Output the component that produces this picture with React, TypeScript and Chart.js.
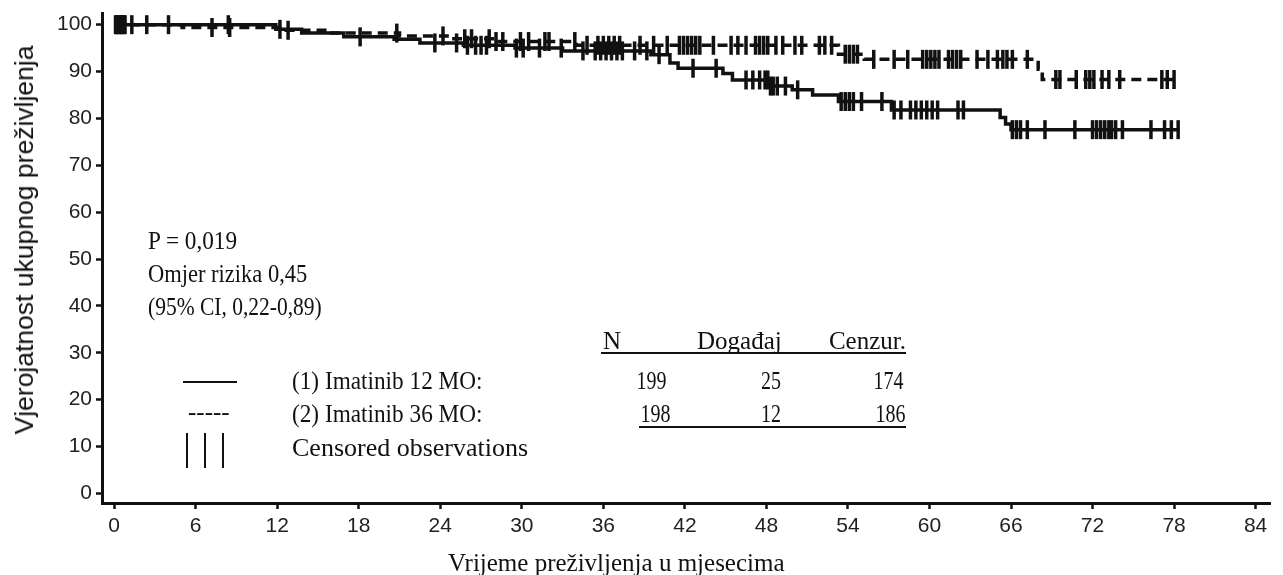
import React, { useEffect, useRef } from "react";
import { Chart, registerables } from "chart.js";

Chart.register(...registerables);

// ---------- data ----------
const xTicks = [0, 6, 12, 18, 24, 30, 36, 42, 48, 54, 60, 66, 72, 78, 84];
const yTicks = [0, 10, 20, 30, 40, 50, 60, 70, 80, 90, 100];

// (1) Imatinib 12 MO — solid step curve (months, survival %)
const solidTimes = [0, 11.9, 13.8, 16.9, 20.6, 22.5, 25.7, 29.5, 33.0, 39.5, 40.9, 41.5, 44.8, 45.5, 48.2, 49.9, 51.4, 53.3, 57.2, 65.2, 65.6, 66.0, 78.4];
const solidSurv = [100, 99.0, 98.2, 97.4, 96.9, 96.1, 95.6, 95.0, 94.4, 93.6, 91.8, 90.7, 89.6, 88.2, 86.9, 86.1, 85.0, 83.6, 81.8, 80.2, 78.8, 77.6, 77.6];

// (2) Imatinib 36 MO — dashed step curve
const dashedTimes = [0, 5.0, 12.5, 16.0, 21.0, 24.5, 28.0, 34.0, 53.3, 55.2, 68.0, 68.3, 78.0];
const dashedSurv = [100, 99.4, 98.8, 98.2, 97.6, 97.0, 96.4, 95.6, 93.7, 92.6, 90.5, 88.3, 88.3];

// censored observation times (months)
const solidCensored = [0.1, 0.25, 0.4, 0.55, 0.7, 1.3, 4.0, 8.4, 12.2, 18.1, 23.6, 25.2, 26.0, 26.6, 27.0, 27.4, 29.6, 30.1, 31.3, 32.9, 34.5, 35.4, 35.8, 36.2, 36.6, 37.0, 37.4, 38.3, 39.2, 40.1, 42.6, 44.3, 46.5, 47.0, 47.5, 47.9, 48.1, 48.3, 48.5, 48.8, 49.4, 50.3, 53.5, 53.8, 54.1, 54.4, 55.0, 56.5, 57.4, 57.9, 58.6, 59.0, 59.4, 59.8, 60.2, 60.6, 62.1, 62.5, 66.1, 66.4, 66.7, 67.2, 68.5, 70.7, 72.0, 72.3, 72.6, 72.9, 73.2, 73.4, 73.7, 74.2, 76.3, 77.3, 77.8, 78.3];
const dashedCensored = [0.2, 0.5, 0.8, 2.4, 7.2, 8.5, 12.8, 20.8, 24.2, 25.8, 26.3, 27.6, 28.1, 28.6, 29.9, 30.5, 31.7, 32.0, 33.9, 34.8, 35.6, 36.0, 36.4, 36.8, 37.2, 38.7, 39.7, 40.7, 41.6, 41.9, 42.2, 42.5, 42.8, 43.1, 44.1, 45.4, 45.9, 46.5, 47.2, 47.5, 47.8, 48.1, 48.7, 49.2, 50.1, 50.6, 51.9, 52.3, 52.8, 53.8, 54.1, 54.4, 54.7, 55.9, 57.4, 58.4, 59.5, 59.8, 60.1, 60.4, 60.7, 61.4, 61.7, 62.0, 62.3, 63.5, 64.3, 65.0, 65.4, 65.7, 66.1, 67.2, 69.3, 69.6, 70.8, 71.5, 71.8, 72.1, 72.7, 73.2, 74.0, 77.1, 77.5, 78.0];

const pValueText = "P = 0,019";
const hazardText = "Omjer rizika 0,45";
const ciText = "(95% CI, 0,22-0,89)";
const tableHeader = ["N", "Događaj", "Cenzur."];
const groupLabels = ["(1) Imatinib 12 MO:", "(2) Imatinib 36 MO:"];
const groupN = ["199", "198"];
const groupEvents = ["25", "12"];
const groupCensored = ["174", "186"];
const censoredLabel = "Censored observations";
const xTitle = "Vrijeme preživljenja u mjesecima";
const yTitle = "Vjerojatnost ukupnog preživljenja";

// ---------- helpers ----------
function survAt(times: number[], surv: number[], t: number): number {
  let v = surv[0];
  for (let i = 0; i < times.length; i++) if (times[i] <= t) v = surv[i];
  return v;
}

const INK = "#111";
const SANS = "'Liberation Sans', Arial, sans-serif";
const SERIF = "'Liberation Serif', 'Times New Roman', serif";
const W = 1283;

type TxtProps = { left?: number; right?: number; cy: number; sx?: number; size?: number; children: React.ReactNode };
function Txt({ left, right, cy, sx = 1, size = 25, children }: TxtProps) {
  const style: React.CSSProperties = {
    position: "absolute",
    top: cy - 14,
    height: 28,
    lineHeight: "28px",
    fontFamily: SERIF,
    fontSize: size,
    color: INK,
    whiteSpace: "nowrap",
    transform: `scaleX(${sx})`,
    transformOrigin: left !== undefined ? "left center" : "right center",
  };
  if (left !== undefined) style.left = left;
  if (right !== undefined) style.right = W - right;
  return <div style={style}>{children}</div>;
}

export default function App() {
  const canvasRef = useRef<HTMLCanvasElement | null>(null);

  useEffect(() => {
    const canvas = canvasRef.current;
    if (!canvas) return;
    const censorStyle = {
      type: "scatter" as const,
      showLine: false,
      pointStyle: "line" as const,
      pointRotation: 90,
      pointRadius: 9.5,
      pointBorderWidth: 3.5,
      pointBorderColor: INK,
      pointBackgroundColor: INK,
      borderColor: INK,
    };
    const tickGrid = {
      display: true,
      drawOnChartArea: false,
      drawTicks: true,
      tickLength: 6,
      tickColor: INK,
      tickWidth: 2.5,
    };
    const chart = new Chart(canvas, {
      type: "scatter",
      data: {
        datasets: [
          {
            type: "line",
            data: solidTimes.map((t, i) => ({ x: t, y: solidSurv[i] })),
            stepped: "before",
            borderColor: INK,
            borderWidth: 3.5,
            pointRadius: 0,
            fill: false,
          } as any,
          {
            type: "line",
            data: dashedTimes.map((t, i) => ({ x: t, y: dashedSurv[i] })),
            stepped: "before",
            borderColor: INK,
            borderWidth: 3.5,
            borderDash: [10, 6],
            pointRadius: 0,
            fill: false,
          } as any,
          {
            ...censorStyle,
            data: solidCensored.map((t) => ({ x: t, y: survAt(solidTimes, solidSurv, t) })),
          } as any,
          {
            ...censorStyle,
            data: dashedCensored.map((t) => ({ x: t, y: survAt(dashedTimes, dashedSurv, t) })),
          } as any,
        ],
      },
      options: {
        responsive: false,
        maintainAspectRatio: false,
        animation: false,
        events: [],
        layout: { padding: { top: 11, left: 0, right: 0, bottom: 0 } },
        plugins: { legend: { display: false }, tooltip: { enabled: false } },
        scales: {
          x: {
            type: "linear",
            min: -0.895,
            max: 85.06,
            afterBuildTicks: (s: any) => {
              s.ticks = xTicks.map((v) => ({ value: v }));
            },
            afterFit: (s: any) => {
              s.height = 72;
              s.paddingLeft = 0;
              s.paddingRight = 0;
            },
            ticks: {
              font: { family: SANS, size: 21 },
              color: "#222",
              padding: 5,
              maxRotation: 0,
              autoSkip: false,
            },
            grid: tickGrid,
            border: { display: true, color: INK, width: 3 },
          },
          y: {
            type: "linear",
            min: -2.06,
            max: 102.49,
            afterBuildTicks: (s: any) => {
              s.ticks = yTicks.map((v) => ({ value: v }));
            },
            afterFit: (s: any) => {
              s.width = 102;
              s.paddingTop = 0;
              s.paddingBottom = 0;
            },
            ticks: {
              font: { family: SANS, size: 21 },
              color: "#222",
              padding: 4,
              autoSkip: false,
            },
            grid: tickGrid,
            border: { display: true, color: INK, width: 3 },
          },
        },
      } as any,
    });
    return () => chart.destroy();
  }, []);

  return (
    <div style={{ position: "absolute", left: 0, top: 0, width: W, height: 575, background: "#fff", overflow: "hidden" }}>
      <canvas ref={canvasRef} width={W} height={575} style={{ position: "absolute", left: 0, top: 0, width: W, height: 575 }} />

      {/* y title */}
      <div
        style={{
          position: "absolute",
          left: 24,
          top: 240,
          transform: "translate(-50%, -50%) rotate(-90deg)",
          fontFamily: SANS,
          fontSize: 26.5,
          color: INK,
          whiteSpace: "nowrap",
          lineHeight: "30px",
        }}
      >
        {yTitle}
      </div>

      {/* x title */}
      <Txt left={448} cy={563}>{xTitle}</Txt>

      {/* statistics */}
      <Txt left={148} cy={241} sx={0.93}>{pValueText}</Txt>
      <Txt left={148} cy={274} sx={0.9}>{hazardText}</Txt>
      <Txt left={148} cy={307} sx={0.86}>{ciText}</Txt>

      {/* table header */}
      <Txt left={603} cy={341}>{tableHeader[0]}</Txt>
      <Txt left={697} cy={341}>{tableHeader[1]}</Txt>
      <Txt right={906} cy={341}>{tableHeader[2]}</Txt>
      <div style={{ position: "absolute", left: 601, top: 352, width: 305, height: 0, borderTop: `2px solid ${INK}` }} />

      {/* row 1 */}
      <div style={{ position: "absolute", left: 183, top: 381, width: 54, height: 0, borderTop: `2.5px solid ${INK}` }} />
      <Txt left={292} cy={381} sx={0.93}>{groupLabels[0]}</Txt>
      <Txt right={666} cy={381} sx={0.8}>{groupN[0]}</Txt>
      <Txt right={781} cy={381} sx={0.8}>{groupEvents[0]}</Txt>
      <Txt right={903} cy={381} sx={0.8}>{groupCensored[0]}</Txt>

      {/* row 2 */}
      <Txt left={188} cy={412}>-----</Txt>
      <Txt left={292} cy={414} sx={0.93}>{groupLabels[1]}</Txt>
      <Txt right={670} cy={414} sx={0.8}>{groupN[1]}</Txt>
      <Txt right={781} cy={414} sx={0.8}>{groupEvents[1]}</Txt>
      <Txt right={905} cy={414} sx={0.8}>{groupCensored[1]}</Txt>
      <div style={{ position: "absolute", left: 639, top: 426, width: 267, height: 0, borderTop: `2px solid ${INK}` }} />

      {/* row 3 */}
      {[187, 205, 223].map((x) => (
        <div key={x} style={{ position: "absolute", left: x - 1, top: 433, width: 2, height: 35, background: INK }} />
      ))}
      <Txt left={292} cy={448} sx={1.04}>{censoredLabel}</Txt>
    </div>
  );
}
